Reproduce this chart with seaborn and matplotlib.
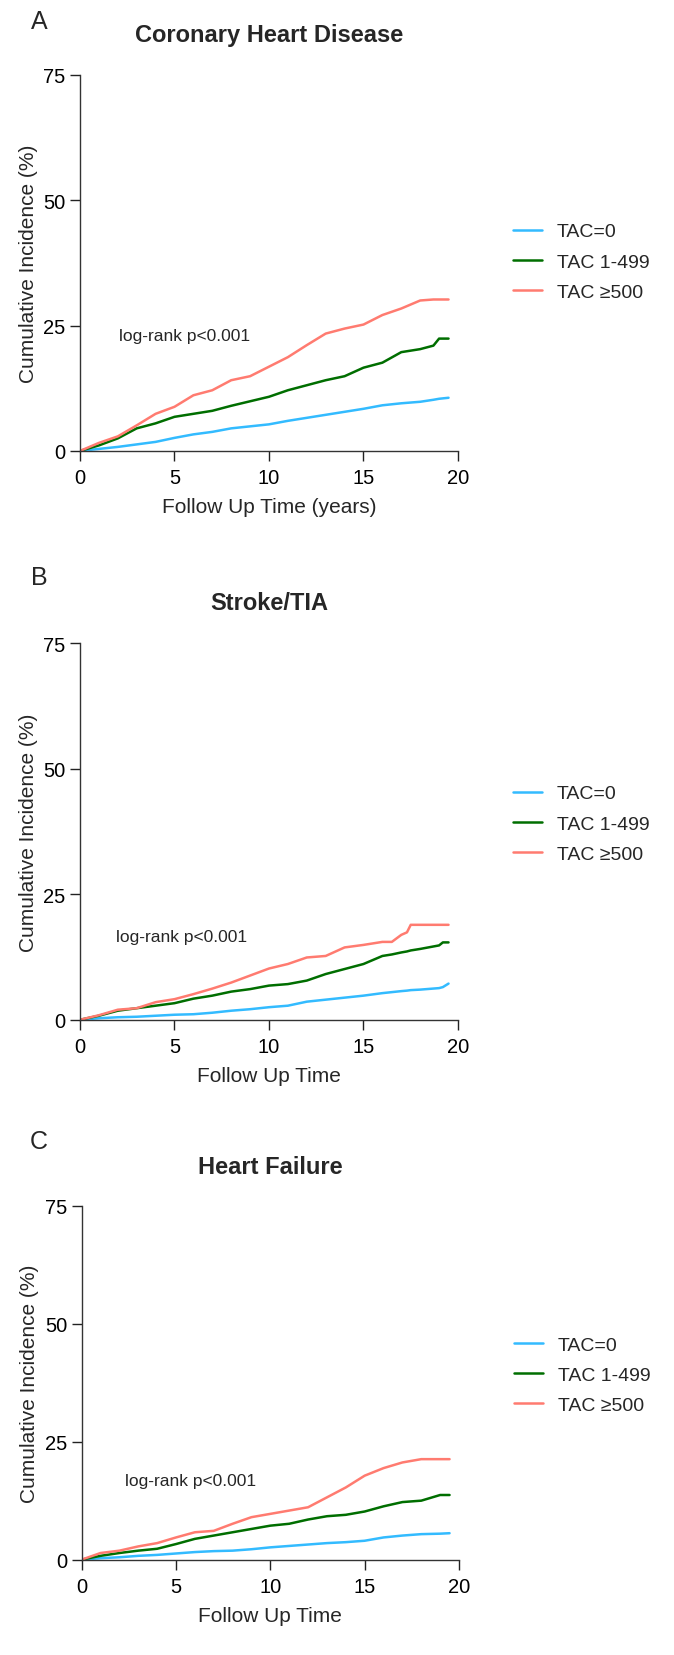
import numpy as np
import pandas as pd
import seaborn as sns
import matplotlib.pyplot as plt

# Group labels and colours
groups = ['TAC=0', 'TAC 1-499', 'TAC ≥500']
colors = ['#33BBFF', '#006E00', '#FF7B70']

# Panel A: coronary heart disease (cumulative incidence, %)
chd_time = [0, 1, 2, 3, 4, 5, 6, 7, 8, 9, 10, 11, 12, 13, 14, 15, 16, 17, 18, 18.7, 19, 19.5]
chd_tac0 = [0, 0.4, 0.8, 1.3, 1.8, 2.6, 3.3, 3.8, 4.5, 4.9, 5.3, 6.0, 6.6, 7.2, 7.8, 8.4, 9.1, 9.5, 9.8, 10.2, 10.4, 10.6]
chd_tac1 = [0, 1.1, 2.5, 4.5, 5.5, 6.8, 7.4, 8.0, 9.0, 9.9, 10.8, 12.1, 13.1, 14.1, 14.9, 16.6, 17.6, 19.7, 20.3, 21.0, 22.4, 22.4]
chd_tac500 = [0, 1.6, 2.9, 5.1, 7.4, 8.8, 11.1, 12.1, 14.1, 14.9, 16.8, 18.7, 21.1, 23.4, 24.4, 25.2, 27.1, 28.4, 30.0, 30.2, 30.2, 30.2]

# Panel B: stroke/TIA
stroke_time = [0, 1, 2, 3, 4, 5, 6, 7, 8, 9, 10, 11, 12, 13, 14, 15, 16, 16.5, 17, 17.3, 17.5, 18, 19, 19.2, 19.5]
stroke_tac0 = [0, 0.3, 0.5, 0.6, 0.8, 1.0, 1.1, 1.4, 1.8, 2.1, 2.5, 2.8, 3.6, 4.0, 4.4, 4.8, 5.3, 5.5, 5.7, 5.8, 5.9, 6.0, 6.3, 6.5, 7.2]
stroke_tac1 = [0, 0.8, 1.8, 2.3, 2.8, 3.3, 4.2, 4.8, 5.6, 6.1, 6.8, 7.1, 7.8, 9.1, 10.1, 11.1, 12.7, 13.0, 13.4, 13.6, 13.8, 14.1, 14.8, 15.4, 15.4]
stroke_tac500 = [0, 0.9, 2.0, 2.3, 3.5, 4.1, 5.1, 6.2, 7.4, 8.8, 10.2, 11.1, 12.4, 12.7, 14.4, 14.9, 15.5, 15.5, 16.9, 17.4, 18.9, 18.9, 18.9, 18.9, 18.9]

# Panel C: heart failure
hf_time = [0, 1, 2, 3, 4, 5, 6, 7, 8, 9, 10, 11, 12, 13, 14, 15, 16, 17, 18, 19, 19.5]
hf_tac0 = [0, 0.3, 0.5, 0.8, 1.0, 1.3, 1.6, 1.8, 1.9, 2.2, 2.6, 2.9, 3.2, 3.5, 3.7, 4.0, 4.7, 5.1, 5.4, 5.5, 5.6]
hf_tac1 = [0, 0.8, 1.4, 1.9, 2.3, 3.3, 4.4, 5.1, 5.8, 6.5, 7.2, 7.6, 8.5, 9.2, 9.5, 10.2, 11.3, 12.2, 12.5, 13.7, 13.7]
hf_tac500 = [0, 1.4, 1.9, 2.8, 3.5, 4.7, 5.8, 6.1, 7.6, 9.0, 9.7, 10.4, 11.1, 13.2, 15.3, 17.8, 19.4, 20.6, 21.3, 21.3, 21.3]

panels = [
    ('A', 'Coronary Heart Disease', 'Follow Up Time (years)', chd_time, [chd_tac0, chd_tac1, chd_tac500]),
    ('B', 'Stroke/TIA', 'Follow Up Time', stroke_time, [stroke_tac0, stroke_tac1, stroke_tac500]),
    ('C', 'Heart Failure', 'Follow Up Time', hf_time, [hf_tac0, hf_tac1, hf_tac500]),
]

sns.set_style('ticks')
plt.rcParams['font.family'] = ['Liberation Sans', 'DejaVu Sans']
plt.rcParams['axes.linewidth'] = 1.0

fig = plt.figure(figsize=(6.74, 16.56), dpi=100)

# axes boxes [left, bottom, width, height] in figure fraction
boxes = [
    [0.1187, 0.7271, 0.5608, 0.2271],
    [0.1187, 0.3836, 0.5608, 0.2275],
    [0.1212, 0.0576, 0.5598, 0.2136],
]
letter_y = [0.987, 0.651, 0.3104]
title_y = [0.9783, 0.6353, 0.2947]
logrank_xy = [(2.05, 23.1), (1.9, 16.5), (2.3, 16.7)]
legend_y = [0.503, 0.52, 0.522]

palette = dict(zip(groups, colors))

for i, (letter, title, xlabel, t, series) in enumerate(panels):
    ax = fig.add_axes(boxes[i])
    df = pd.concat([pd.DataFrame({'time': t, 'inc': v, 'group': g})
                    for g, v in zip(groups, series)])
    sns.lineplot(data=df, x='time', y='inc', hue='group', hue_order=groups,
                 palette=palette, linewidth=1.8, ax=ax)

    ax.set_xlim(0, 20)
    ax.set_ylim(0, 75)
    ax.set_xticks([0, 5, 10, 15, 20])
    ax.set_yticks([0, 25, 50, 75])
    ax.tick_params(labelsize=14.5, length=7, width=1.0, colors='#222222',
                   labelcolor='black')
    ax.tick_params(axis='x', pad=5.5)
    for s in ['left', 'bottom']:
        ax.spines[s].set_color('#333333')
    sns.despine(ax=ax)
    ax.set_xlabel(xlabel, fontsize=15, labelpad=7)
    ax.set_ylabel('Cumulative Incidence (%)', fontsize=15, labelpad=4)
    ax.text(logrank_xy[i][0], logrank_xy[i][1], 'log-rank p<0.001',
            fontsize=12.5, va='center', ha='left')

    handles, labels = ax.get_legend_handles_labels()
    ax.legend(handles, labels, loc='center left',
              bbox_to_anchor=(1.12, legend_y[i]), frameon=False,
              fontsize=14, handlelength=1.5, handletextpad=0.75,
              labelspacing=0.65, borderpad=0)

    fig.text(0.058, letter_y[i], letter, fontsize=18, ha='center', va='center')
    fig.text(boxes[i][0] + boxes[i][2] / 2, title_y[i], title, fontsize=17,
             fontweight='bold', ha='center', va='center')

fig.savefig('out.png', dpi=100)
